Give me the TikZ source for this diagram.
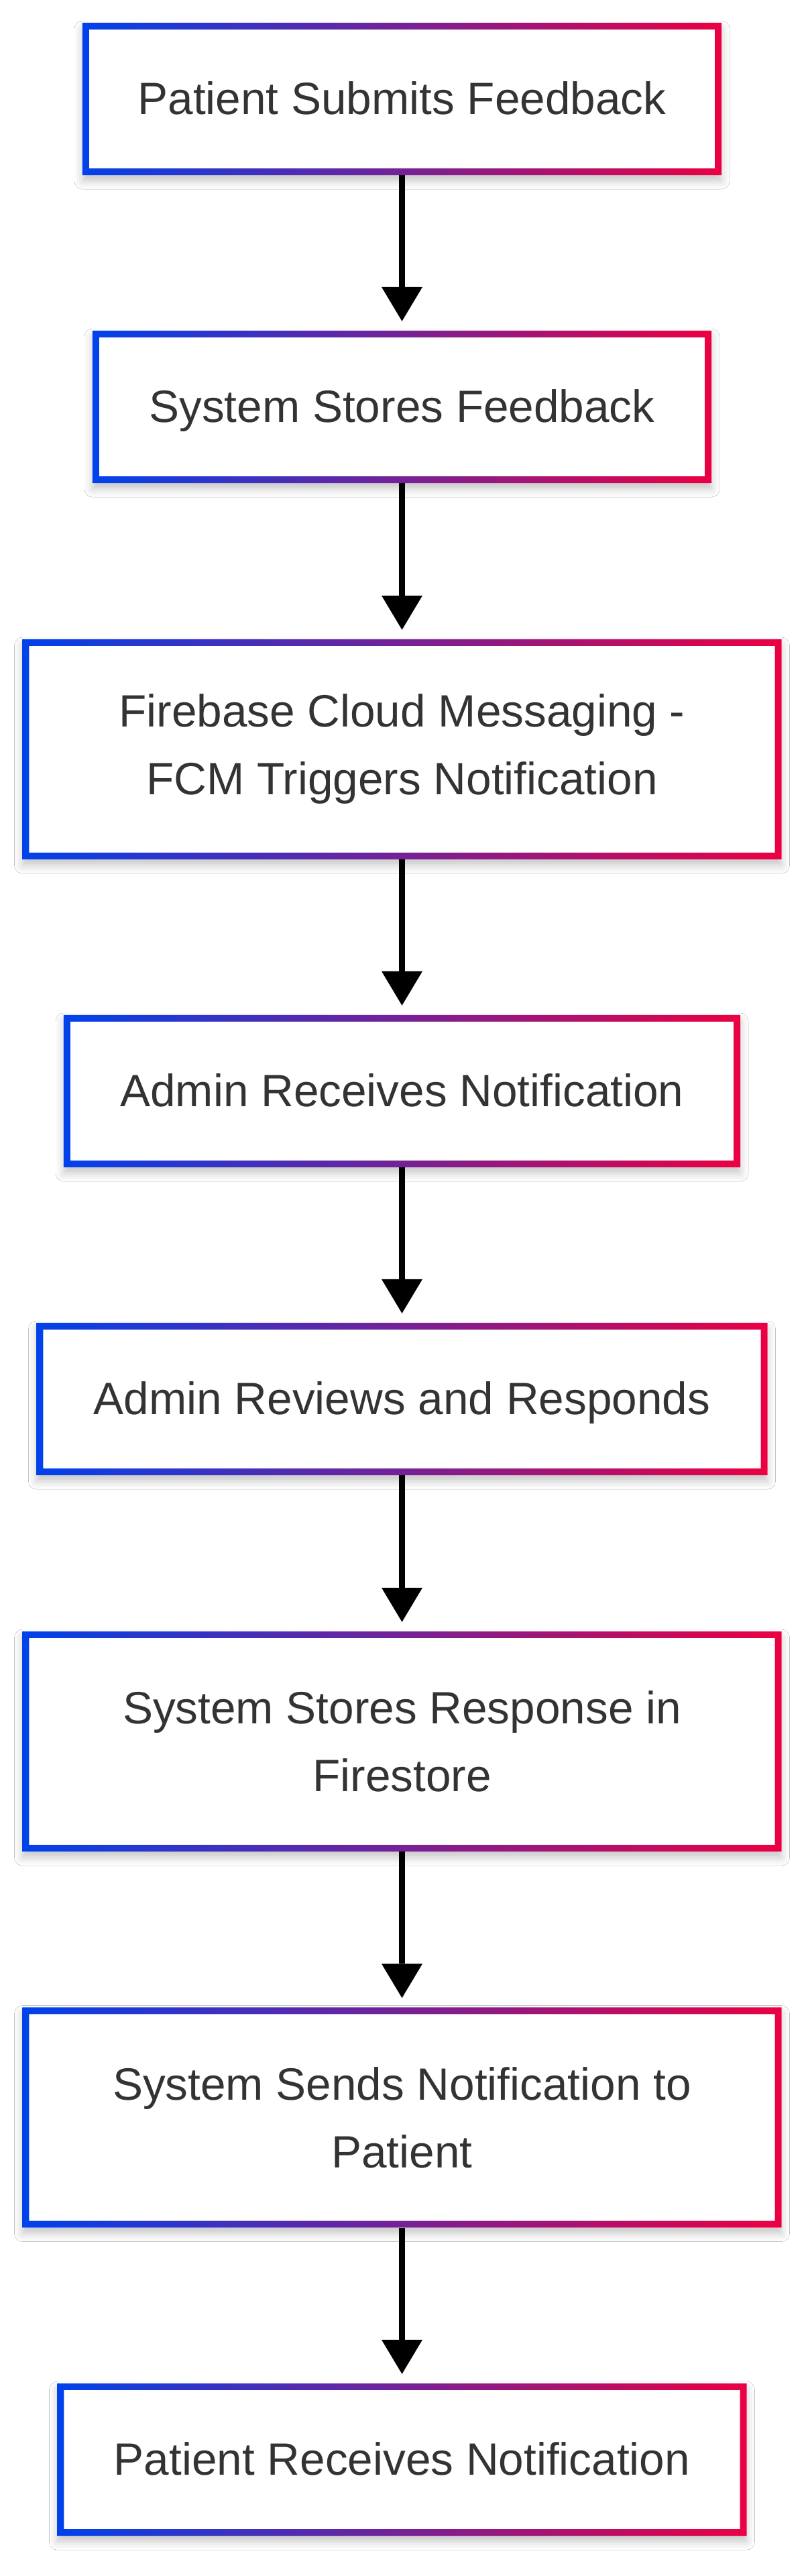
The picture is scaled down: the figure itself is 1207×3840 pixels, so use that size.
\documentclass[tikz,border=0pt]{standalone}
\usepackage{fontspec}
\setmainfont{Liberation Sans}
\usetikzlibrary{arrows.meta,shadows.blur}
\definecolor{gblue}{RGB}{0,66,235}
\definecolor{gred}{RGB}{235,0,66}
\definecolor{txt}{RGB}{51,51,51}
\tikzset{
  boxbase/.style={rectangle, fill=white, draw=none, inner sep=0pt, align=center,
    text=txt, font=\fontsize{67.5}{101}\selectfont,
    blur shadow={shadow xshift=0pt, shadow yshift=-9pt, shadow blur radius=12pt, shadow opacity=22}},
  stepbox/.style={boxbase, minimum height=227pt, text height=48pt, text depth=2pt},
  tallbox/.style={boxbase, minimum height=328pt},
  flow/.style={line width=9pt, draw=black,
    -{Triangle[length=51pt,width=61pt,line width=0pt]}, shorten >=14pt}
}
\begin{document}
\begin{tikzpicture}[x=1pt,y=1pt]
\useasboundingbox (0,0) rectangle (1207,-3840);
\fill[white] (0,0) rectangle (1207,-3840);
\node[stepbox, minimum width=953pt] (a) at (599.5,-147.5) {Patient Submits Feedback};
\node[stepbox, minimum width=923pt] (b) at (599.5,-606.5) {System Stores Feedback};
\node[tallbox, minimum width=1132pt] (c) at (599.5,-1117) {Firebase Cloud Messaging -\\FCM Triggers Notification};
\node[stepbox, minimum width=1009pt] (d) at (599.5,-1626.5) {Admin Receives Notification};
\node[stepbox, minimum width=1090pt] (e) at (599.5,-2085.5) {Admin Reviews and Responds};
\node[tallbox, minimum width=1132pt] (f) at (599.5,-2596) {System Stores Response in\\Firestore};
\node[tallbox, minimum width=1132pt] (g) at (599.5,-3156.5) {System Sends Notification to\\Patient};
\node[stepbox, minimum width=1028pt] (h) at (599.5,-3666.5) {Patient Receives Notification};
\foreach \n in {a,b,c,d,e,f,g,h}{
  \shade[left color=gblue, right color=gred, even odd rule]
    (\n.south west) rectangle (\n.north east)
    ([shift={(10pt,10pt)}]\n.south west) rectangle ([shift={(-10pt,-10pt)}]\n.north east);
}
\draw[flow] (a.south) -- (b.north);
\draw[flow] (b.south) -- (c.north);
\draw[flow] (c.south) -- (d.north);
\draw[flow] (d.south) -- (e.north);
\draw[flow] (e.south) -- (f.north);
\draw[flow] (f.south) -- (g.north);
\draw[flow] (g.south) -- (h.north);
\end{tikzpicture}
\end{document}
